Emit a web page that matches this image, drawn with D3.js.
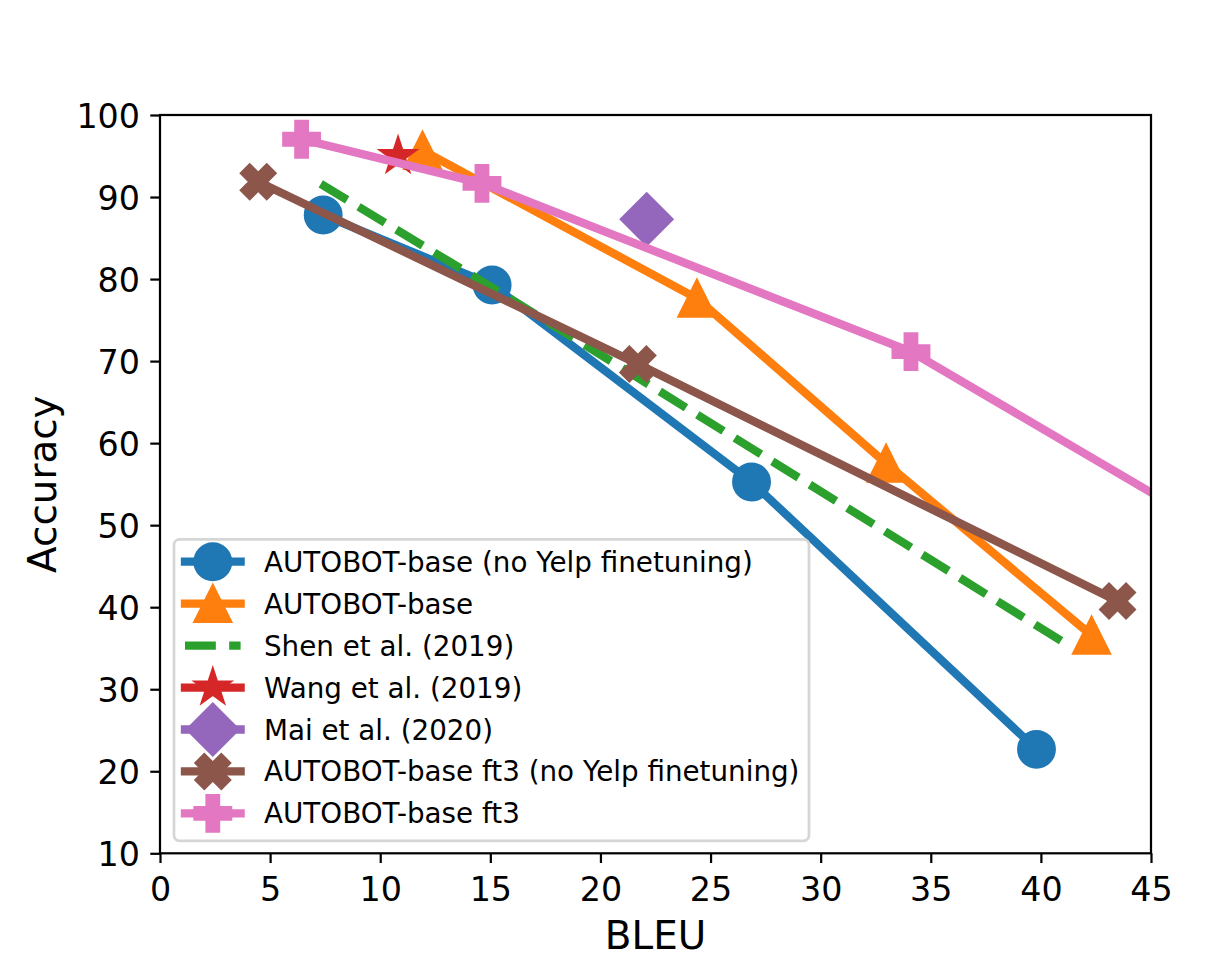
<!DOCTYPE html>
<html>
<head>
<meta charset="utf-8">
<script src="https://cdn.jsdelivr.net/npm/d3@7"></script>
<style>
  body { margin: 0; background: #fff; }
  svg { font-family: "DejaVu Sans", sans-serif; }
</style>
</head>
<body>
<svg id="chart" width="1230" height="960"></svg>
<script>
// values
var blueX   = [7.41, 15.08, 26.86, 39.8],   blueY   = [87.81, 79.28, 55.26, 22.67];
var orangeX = [11.92, 24.38, 32.97, 42.3],  orangeY = [95.67, 77.65, 57.54, 36.57];
var greenX  = [7.3, 15.0, 21.5, 41.1],      greenY  = [91.6, 79.1, 68.3, 35.6];
var redX    = [10.81],                      redY    = [95.0];
var purpleX = [22.1],                       purpleY = [87.3];
var brownX  = [4.46, 21.7, 43.48],          brownY  = [91.87, 69.65, 40.75];
var pinkX   = [6.43, 14.62, 34.1, 49.5],    pinkY   = [97.04, 91.67, 71.15, 46.9];

var xTicks = [0, 5, 10, 15, 20, 25, 30, 35, 40, 45];
var yTicks = [10, 20, 30, 40, 50, 60, 70, 80, 90, 100];

var series = [
  {name: "AUTOBOT-base (no Yelp finetuning)",     color: "#1f77b4", marker: "o", xs: blueX,   ys: blueY},
  {name: "AUTOBOT-base",                          color: "#ff7f0e", marker: "^", xs: orangeX, ys: orangeY},
  {name: "Shen et al. (2019)",                    color: "#2ca02c", marker: null, dash: true, xs: greenX, ys: greenY},
  {name: "Wang et al. (2019)",                    color: "#d62728", marker: "*", xs: redX,    ys: redY},
  {name: "Mai et al. (2020)",                     color: "#9467bd", marker: "D", xs: purpleX, ys: purpleY},
  {name: "AUTOBOT-base ft3 (no Yelp finetuning)", color: "#8c564b", marker: "X", xs: brownX,  ys: brownY},
  {name: "AUTOBOT-base ft3",                      color: "#e377c2", marker: "P", xs: pinkX,   ys: pinkY}
];

var pt = 200 / 72;             // px per point
var lw = 3 * pt, ms = 13 * pt; // line width, marker size
var L = 160, R = 1151, T = 115, B = 853.3;

var x = d3.scaleLinear().domain([0, 45]).range([L, R]);
var y = d3.scaleLinear().domain([10, 100]).range([B, T]);

var svg = d3.select("#chart");

svg.append("defs").append("clipPath").attr("id", "plotclip")
  .append("rect").attr("x", L).attr("y", T).attr("width", R - L).attr("height", B - T);

// marker paths, shaped like matplotlib's
function markerPath(m) {
  var s = ms, pts;
  if (m === "o") {
    var r = s / 2;
    return "M" + r + ",0A" + r + "," + r + " 0 1,1 " + (-r) + ",0A" + r + "," + r + " 0 1,1 " + r + ",0Z";
  }
  if (m === "^") pts = [[0, -1], [-1, 1], [1, 1]].map(function(p) { return [p[0] * s / 2, p[1] * s / 2]; });
  if (m === "*") {
    pts = [];
    for (var i = 0; i < 10; i++) {
      var rr = (i % 2 ? 0.381966 : 1) * s / 2, a = i * Math.PI / 5;
      pts.push([rr * Math.sin(a), -rr * Math.cos(a)]);
    }
  }
  if (m === "D") {
    var h = s * Math.SQRT2 / 2;
    pts = [[0, -h], [h, 0], [0, h], [-h, 0]];
  }
  if (m === "P" || m === "X") {
    var plus = [[-1, -3], [1, -3], [1, -1], [3, -1], [3, 1], [1, 1], [1, 3], [-1, 3], [-1, 1], [-3, 1], [-3, -1], [-1, -1]];
    var ang = m === "X" ? Math.PI / 4 : 0, c = Math.cos(ang), sn = Math.sin(ang);
    pts = plus.map(function(p) {
      var px = p[0] / 6 * s, py = p[1] / 6 * s;
      return [px * c - py * sn, px * sn + py * c];
    });
  }
  return "M" + pts.map(function(p) { return p[0].toFixed(2) + "," + p[1].toFixed(2); }).join("L") + "Z";
}

// axes (ticks + labels), spines drawn separately
var xAxis = svg.append("g").attr("transform", "translate(0," + B + ")")
  .call(d3.axisBottom(x).tickValues(xTicks).tickSize(9.7).tickFormat(d3.format("d")));
var yAxis = svg.append("g").attr("transform", "translate(" + L + ",0)")
  .call(d3.axisLeft(y).tickValues(yTicks).tickSize(9.7).tickFormat(d3.format("d")));
[xAxis, yAxis].forEach(function(a) {
  a.select(".domain").remove();
  a.selectAll(".tick line").attr("stroke", "#000").attr("stroke-width", 0.8 * pt);
  a.selectAll(".tick text").attr("fill", "#000").style("font-size", (12 * pt) + "px")
    .style("font-family", "DejaVu Sans");
});
xAxis.selectAll(".tick text").attr("y", 47.4).attr("dy", null);
yAxis.selectAll(".tick text").attr("x", -20).attr("dy", "0.36em");

// data
var plot = svg.append("g").attr("clip-path", "url(#plotclip)");
var line = d3.line().x(function(d) { return x(d[0]); }).y(function(d) { return y(d[1]); });

series.forEach(function(s) {
  var pts = s.xs.map(function(v, i) { return [v, s.ys[i]]; });
  var g = plot.append("g");
  g.append("path").datum(pts).attr("d", line)
    .attr("fill", "none").attr("stroke", s.color).attr("stroke-width", lw)
    .attr("stroke-linejoin", "round")
    .attr("stroke-linecap", s.dash ? "butt" : "square")
    .attr("stroke-dasharray", s.dash ? (3.7 * lw) + "," + (1.6 * lw) : null);
  if (s.marker) {
    g.selectAll("path.mk").data(pts).enter().append("path").attr("class", "mk")
      .attr("d", markerPath(s.marker))
      .attr("transform", function(d) { return "translate(" + x(d[0]) + "," + y(d[1]) + ")"; })
      .attr("fill", s.color).attr("stroke", s.color).attr("stroke-width", pt)
      .attr("stroke-linejoin", "miter");
  }
});

// spines
svg.append("rect").attr("x", L).attr("y", T).attr("width", R - L).attr("height", B - T)
  .attr("fill", "none").attr("stroke", "#000").attr("stroke-width", 0.8 * pt);

// axis titles
svg.append("text").attr("x", (L + R) / 2).attr("y", 949).attr("text-anchor", "middle")
  .style("font-size", (14 * pt) + "px").text("BLEU");
svg.append("text").attr("transform", "translate(56.3," + ((T + B) / 2) + ") rotate(-90)")
  .attr("text-anchor", "middle").style("font-size", (14 * pt) + "px").text("Accuracy");

// legend
var lg = svg.append("g");
lg.append("rect").attr("x", 174).attr("y", 539.3).attr("width", 635).attr("height", 301.5)
  .attr("rx", 5.5).attr("fill", "#fff").attr("fill-opacity", 0.8)
  .attr("stroke", "#d6d6d6").attr("stroke-width", pt);
var rows = lg.selectAll("g.row").data(series).enter().append("g").attr("class", "row")
  .attr("transform", function(d, i) { return "translate(0," + (561.7 + i * 41.95) + ")"; });
rows.append("line").attr("x1", 185).attr("x2", 240.6)
  .attr("stroke", function(d) { return d.color; }).attr("stroke-width", lw)
  .attr("stroke-linecap", function(d) { return d.dash ? "butt" : "square"; })
  .attr("stroke-dasharray", function(d) { return d.dash ? (3.7 * lw) + "," + (1.6 * lw) : null; });
rows.filter(function(d) { return d.marker; }).append("path")
  .attr("d", function(d) { return markerPath(d.marker); })
  .attr("transform", "translate(212.8,0)")
  .attr("fill", function(d) { return d.color; }).attr("stroke", function(d) { return d.color; })
  .attr("stroke-width", pt);
rows.append("text").attr("x", 264).attr("y", 10).style("font-size", (10 * pt) + "px")
  .text(function(d) { return d.name; });
</script>
</body>
</html>
